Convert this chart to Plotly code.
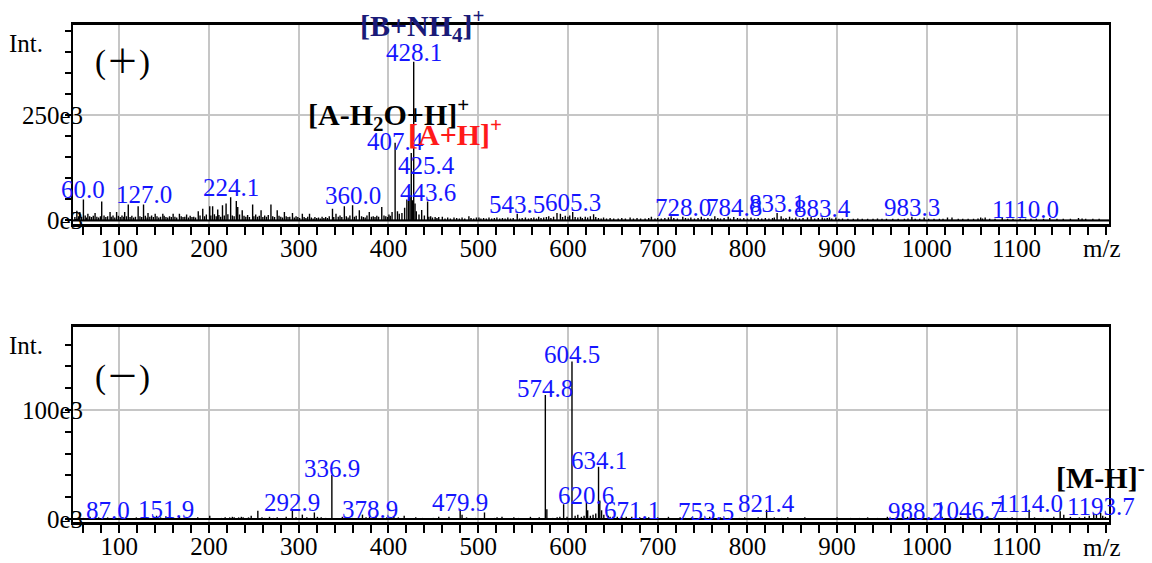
import plotly.graph_objects as go

SERIF = "Liberation Serif, Times New Roman, serif"
SERIF_CJK = "Liberation Serif, Noto Sans CJK SC, serif"
BLUE = "#1515ff"
NAVY = "#1a1a78"
RED = "#ff1a1a"

# ---------------- positive ion mode (intensity in units of 1e3) ----------------
pos_peak_mz = [52.7, 56.0, 60.0, 65.0, 73.0, 80.4, 89.7, 97.0, 106.0, 110.0, 121.0, 127.0,
               132.0, 140.0, 148.5, 160.0, 167.0, 175.0, 188.0, 193.0, 200.8, 204.0, 209.7,
               215.0, 219.0, 224.1, 230.4, 232.0, 237.0, 248.6, 258.0, 269.0, 276.0, 284.0,
               293.0, 304.0, 312.0, 337.6, 341.5, 350.8, 360.0, 367.5, 378.6, 392.5,
               400.5, 404.0, 407.4, 410.0, 415.0, 418.0, 420.5, 422.5, 424.0, 425.4, 426.8,
               428.1, 429.6, 431.0, 434.0, 437.0, 440.0, 443.6, 447.0, 452.0,
               460.0, 473.0, 489.6, 500.8, 520.8, 543.5, 552.6, 567.4, 578.6, 587.8, 591.6,
               605.3, 619.3, 628.6, 639.7, 669.3, 693.0, 715.0, 728.0, 737.0, 748.6, 763.7,
               778.6, 784.8, 804.0, 833.1, 837.6, 847.0, 854.0, 867.0, 871.0, 883.4, 891.5,
               898.6, 923.0, 945.0, 983.3, 997.0, 1023.0, 1028.0, 1060.0, 1065.0, 1084.0,
               1110.0, 1137.0, 1169.0, 1173.0]
pos_peak_int = [23, 20, 50, 16, 18, 45, 20, 20, 20, 38, 34, 38,
                18, 16, 16, 16, 16, 14, 22, 28, 34, 34, 26,
                36, 40, 55, 46, 32, 24, 38, 24, 38, 24, 20,
                18, 16, 16, 28, 16, 34, 36, 24, 20, 32,
                14, 20, 184, 22, 18, 30, 50, 60, 55, 160, 48,
                376, 40, 22, 14, 25, 12, 45, 10, 8,
                9, 7, 10, 7, 7, 16, 7, 9, 10, 18, 16,
                20, 9, 15, 7, 7, 9, 10, 9, 7, 9, 10,
                9, 8, 7, 18, 10, 9, 7, 7, 9, 7, 7,
                7, 5, 5, 9, 7, 7, 7, 7, 7, 7,
                4, 6, 6, 5]
pos_noise_mz = [50.5, 54.5, 58, 62, 63.5, 67, 69, 71, 75, 77, 79, 83, 85, 87, 91, 93, 95, 99,
                101, 103, 105, 108, 112, 114, 116, 118, 123, 125, 129, 131, 134, 136, 138,
                142, 144, 146, 150, 152, 154, 156, 158, 162, 164, 169, 171, 173, 177, 179,
                181, 183, 185, 190, 195, 197, 202, 206, 208, 211, 213, 217, 221, 226, 228,
                234, 239, 241, 243, 245, 250, 252, 254, 256, 260, 262, 264, 266, 271, 273,
                278, 280, 282, 286, 288, 290, 295, 297, 299, 301, 306, 308, 310, 314, 316,
                318, 320, 322, 324, 326, 328, 330, 332, 334, 339, 344, 346, 348, 353, 355,
                357, 362, 364, 370, 372, 374, 376, 381, 383, 385, 387, 389, 395, 397, 399,
                402, 412, 445, 449, 454, 456, 463, 466, 469, 476, 479, 482, 485, 492, 495,
                498, 503, 506, 509, 512, 515, 518, 524, 527, 530, 533, 536, 539, 546, 549,
                556, 559, 562, 565, 570, 573, 576, 581, 584, 594, 597, 600, 602, 608, 611,
                614, 616, 622, 625, 631, 634, 637, 643, 647, 651, 656, 660, 664, 673, 677,
                681, 686, 690, 697, 700, 704, 708, 712, 718, 722, 731, 734, 741, 745, 752,
                756, 760, 767, 770, 774, 781, 789, 792, 796, 800, 808, 812, 816, 820, 824,
                828, 830, 840, 843, 850, 858, 862, 875, 879, 886, 889, 894, 902, 906, 912,
                918, 928, 934, 940, 950, 955, 962, 968, 975, 979, 987, 992, 1002, 1008,
                1014, 1018, 1035, 1040, 1046, 1052, 1057, 1062, 1070, 1076, 1090, 1096,
                1104, 1116, 1122, 1130, 1145, 1152, 1160, 1177, 1185, 1192]
pos_noise_int = [8, 10, 9, 12, 7, 10, 8, 11, 9, 7, 10, 12, 8, 10, 9, 12, 7, 11,
                 8, 12, 9, 10, 8, 11, 7, 9, 10, 8, 11, 7, 9, 12, 8,
                 10, 7, 9, 11, 8, 7, 10, 8, 9, 7, 10, 8, 9, 7, 11,
                 8, 9, 7, 12, 10, 14, 12, 15, 10, 13, 9, 12, 15, 12, 10,
                 14, 11, 9, 13, 8, 10, 14, 9, 11, 8, 12, 9, 13, 10, 8,
                 11, 9, 7, 10, 8, 9, 7, 10, 8, 6, 8, 6, 9, 7, 5,
                 8, 6, 7, 5, 9, 6, 8, 6, 10, 8, 9, 12, 8, 10, 7,
                 12, 9, 11, 10, 8, 7, 12, 9, 10, 8, 11, 9, 12, 10, 8,
                 11, 16, 9, 7, 6, 8, 5, 7, 5, 6, 5, 7, 5, 6, 5,
                 7, 5, 6, 5, 7, 5, 6, 5, 6, 5, 7, 5, 6, 5, 6,
                 5, 6, 7, 5, 6, 7, 8, 6, 9, 8, 11, 9, 12, 8, 7,
                 9, 6, 7, 10, 8, 6, 5, 5, 6, 5, 5, 6, 5, 5, 6,
                 5, 5, 6, 5, 6, 5, 6, 7, 6, 5, 6, 5, 5, 6, 5,
                 6, 5, 6, 5, 6, 5, 6, 5, 6, 5, 5, 6, 5, 6, 5,
                 6, 7, 5, 6, 5, 5, 6, 5, 6, 5, 6, 5, 4, 5, 4,
                 4, 4, 4, 4, 4, 4, 4, 4, 4, 5, 4, 4, 4, 4,
                 4, 4, 4, 4, 4, 4, 5, 5, 4, 4, 4, 4,
                 4, 4, 4, 4, 4, 4, 4, 4, 4, 4]
pos_labels = [60.0, 127.0, 224.1, 360.0, 407.4, 425.4, 428.1, 443.6, 543.5, 605.3,
              728.0, 784.8, 833.1, 883.4, 983.3, 1110.0]

# ---------------- negative ion mode (intensity in units of 1e3) ----------------
neg_peak_mz = [67.4, 87.0, 119.0, 141.5, 151.9, 167.0, 187.4, 200.8, 223.0, 228.0, 233.0,
               238.0, 247.0, 254.4, 267.4, 292.9, 304.0, 317.4, 320.8, 336.9, 348.6, 371.0,
               378.9, 386.0, 406.0, 417.5, 430.4, 456.0, 467.4, 479.9, 482.0, 507.0, 526.5,
               539.7, 558.2, 574.8, 576.5, 595.2, 604.5, 608.0, 611.0, 620.6, 622.0, 625.0,
               628.0, 634.1, 635.5, 637.5, 640.0, 645.0, 650.0, 655.0, 660.0, 665.0, 671.1,
               680.0, 690.0, 700.0, 712.0, 725.0, 737.8, 745.0, 753.5, 758.0, 770.0, 785.0,
               797.0, 805.0, 812.0, 821.4, 830.0, 845.0, 855.0, 864.0, 880.0, 900.0, 915.0,
               934.0, 945.0, 956.0, 966.0, 978.5, 988.2, 1000.0, 1010.0, 1017.0, 1025.0,
               1037.8, 1046.7, 1055.0, 1065.0, 1075.0, 1085.0, 1095.0, 1105.0, 1114.0,
               1120.0, 1130.0, 1141.5, 1148.6, 1152.6, 1160.0, 1170.0, 1176.0, 1181.0,
               1186.0, 1189.0, 1193.7, 1196.0, 1199.0]
neg_peak_int = [2, 1.5, 1.5, 3, 2.5, 2, 1.5, 3, 1.5, 1.5, 1.5,
                1.5, 3, 7.5, 2, 9, 4, 6, 2, 40.5, 2, 4,
                2.5, 3, 2, 3, 1.5, 2, 2, 9, 4, 6, 2,
                1.5, 2, 113.8, 9, 13.6, 144.5, 3, 4, 15.5, 8, 3,
                4, 48, 17, 8, 4, 3, 2, 2, 2, 2, 2,
                1.5, 1.5, 1.5, 2, 1.5, 1.5, 1, 1, 2, 1.5, 1,
                1.5, 1, 1.5, 8.5, 1.5, 1.5, 1, 1.5, 1, 1.5, 1,
                1.5, 1, 2, 1.5, 2, 1, 1, 1.5, 2, 1,
                2, 2, 1, 1.5, 1.5, 1, 1.5, 1, 8.5,
                1.5, 1, 2, 7, 4, 2, 1.5, 2, 3,
                5, 4, 5.5, 3, 2]
neg_noise_mz = [52, 56, 60, 72, 77, 82, 92, 97, 104, 110, 125, 130, 135, 146, 157, 162, 173,
                180, 193, 208, 214, 218, 226, 231, 236, 241, 244, 250, 259, 262, 272, 276,
                281, 286, 297, 300, 309, 313, 325, 330, 344, 355, 360, 366, 375, 392, 398,
                402, 411, 414, 422, 438, 444, 450, 462, 473, 487, 491, 497, 502, 512, 518,
                521, 532, 545, 550, 563, 568, 583, 588, 591, 599, 615, 618, 631, 647, 668,
                675, 685, 695, 705, 718, 731, 764, 779, 791, 817, 826, 838, 850, 870, 890,
                908, 925, 940, 950, 961, 972, 983, 995, 1005, 1030, 1050, 1060, 1070, 1080,
                1090, 1100, 1110, 1125, 1135, 1145, 1156, 1165]
neg_noise_int = [1, 1.5, 1, 1, 1.5, 1, 1, 1, 1.5, 1, 1, 1.5, 1, 1.5, 1, 1, 1,
                 1, 1, 1, 1, 1.5, 2, 1, 2, 1, 1.5, 1, 1.5, 1, 1, 1.5,
                 1, 2, 1.5, 1, 1.5, 1, 1.5, 1, 1, 1.5, 1, 1, 1.5, 1, 1.5,
                 1, 1.5, 1, 1, 1, 1, 1, 1, 1, 1.5, 1, 1, 1, 1, 1,
                 1.5, 1, 1, 1, 1, 1.5, 1, 1.5, 2, 2, 2, 3, 5, 2, 1,
                 1, 1, 1, 1, 1, 1, 1, 1, 1, 1, 1, 1, 1, 1, 1,
                 1, 1, 1, 1, 1, 1, 1, 1, 1, 1, 1, 1, 1, 1,
                 1, 1, 1, 1, 1, 1, 1, 1]
neg_labels = [87.0, 151.9, 292.9, 336.9, 378.9, 479.9, 574.8, 604.5, 620.6, 634.1,
              671.1, 753.5, 821.4, 988.2, 1046.7, 1114.0, 1193.7]

x_ticks = [100, 200, 300, 400, 500, 600, 700, 800, 900, 1000, 1100]
pos_y_ticks = [0, 250]
neg_y_ticks = [0, 100]

# vertical gap (px) between a peak top and its label box, per panel
label_gap = {"pos": -6, "neg": -9}
# label offsets (px) where a label had to be moved off its peak
label_nudge = {("pos", 425.4): (15, -22), ("pos", 407.4): (0, -8)}


def sticks(mz, inten):
    xs, ys = [], []
    for m, v in zip(mz, inten):
        xs += [m, m, None]
        ys += [0, v, None]
    return xs, ys


fig = go.Figure()
for mzs, ints, ya in [(pos_noise_mz, pos_noise_int, "y"), (pos_peak_mz, pos_peak_int, "y"),
                      (neg_noise_mz, neg_noise_int, "y2"), (neg_peak_mz, neg_peak_int, "y2")]:
    xs, ys = sticks(mzs, ints)
    fig.add_trace(go.Scatter(x=xs, y=ys, mode="lines", line=dict(color="black", width=1.4),
                             xaxis="x" if ya == "y" else "x2", yaxis=ya,
                             hoverinfo="skip", showlegend=False))

annotations = []


def add_peak_labels(tag, labels, mzs, ints, xref, yref):
    for m in labels:
        h = ints[mzs.index(m)]
        dx, dy = label_nudge.get((tag, m), (0, 0))
        annotations.append(dict(x=m, y=h, xref=xref, yref=yref, text=f"{m:.1f}",
                                showarrow=False, xanchor="center", yanchor="bottom",
                                xshift=dx, yshift=label_gap[tag] + dy,
                                font=dict(family=SERIF, size=25, color=BLUE)))


add_peak_labels("pos", pos_labels, pos_peak_mz, pos_peak_int, "x", "y")
add_peak_labels("neg", neg_labels, neg_peak_mz, neg_peak_int, "x2", "y2")

bold = dict(family=SERIF, size=30)
plain = dict(family=SERIF, size=25, color="black")
annotations += [
    dict(x=438, y=461, xref="x", yref="y", text="<b>[B+NH<sub>4</sub>]<sup>+</sup></b>",
         font=dict(bold, color=NAVY)),
    dict(x=400.4, y=252, xref="x", yref="y", text="<b>[A-H<sub>2</sub>O+H]<sup>+</sup></b>",
         font=dict(bold, color="black")),
    dict(x=474, y=210, xref="x", yref="y", text="<b>[A+H]<sup>+</sup></b>",
         font=dict(bold, color=RED)),
    dict(x=1193.5, y=40.4, xref="x2", yref="y2", text="<b>[M-H]<sup>-</sup></b>",
         font=dict(bold, color="black")),
    dict(x=103.6, y=374, xref="x", yref="y", text="(＋)",
         font=dict(family=SERIF_CJK, size=33, color="black")),
    dict(x=103.6, y=129.4, xref="x2", yref="y2", text="(－)",
         font=dict(family=SERIF_CJK, size=33, color="black")),
    # axis captions sit outside the plotting area, so they use paper coordinates
    dict(x=-0.0449, y=0.9628, xref="paper", yref="paper", text="Int.", font=plain),
    dict(x=-0.0449, y=0.3561, xref="paper", yref="paper", text="Int.", font=plain),
    dict(x=0.9932, y=0.5493, xref="paper", yref="paper", text="m/z", font=plain),
    dict(x=0.9932, y=-0.0523, xref="paper", yref="paper", text="m/z", font=plain),
]
for a in annotations[-10:]:
    a.setdefault("showarrow", False)
    a.setdefault("xanchor", "center")
    a.setdefault("yanchor", "middle")

tick_font = dict(family=SERIF, size=25, color="black")
xcommon = dict(range=[48.4, 1203], tickmode="array", tickvals=x_ticks, ticks="outside",
               ticklen=8, tickwidth=1.5, tickcolor="black", tickfont=tick_font,
               showgrid=True, gridcolor="#c6c6c6", gridwidth=1.5, zeroline=False,
               showline=True, linecolor="black", linewidth=2.5, mirror=True,
               automargin=False, ticklabelstandoff=-8,
               minor=dict(tickmode="linear", tick0=0, dtick=20, ticks="outside", ticklen=8,
                          tickwidth=1.5, tickcolor="black", showgrid=False))
ycommon = dict(tickmode="array", ticks="outside", ticklen=6, tickwidth=1.5, tickcolor="black",
               tickfont=tick_font, showgrid=True, gridcolor="#c6c6c6", gridwidth=1.5,
               zeroline=False, showline=True, linecolor="black", linewidth=2, mirror=True,
               automargin=False, ticklabelstandoff=-23)

fig.update_layout(
    template="none",
    width=1152, height=563, autosize=False,
    margin=dict(l=73, r=43, t=25, b=41),
    paper_bgcolor="white", plot_bgcolor="white",
    showlegend=False,
    xaxis=dict(xcommon, domain=[0, 1], anchor="y"),
    yaxis=dict(ycommon, domain=[0.5986, 1.0], anchor="x", range=[-9.5, 463.3],
               tickvals=pos_y_ticks, ticktext=[f"{v}e3" for v in pos_y_ticks],
               minor=dict(tickmode="linear", tick0=0, dtick=50, ticks="outside", ticklen=6,
                          tickwidth=1.5, tickcolor="black", showgrid=False)),
    xaxis2=dict(xcommon, domain=[0, 1], anchor="y2"),
    yaxis2=dict(ycommon, domain=[0, 0.393], anchor="x2", range=[-2.75, 176.4],
                tickvals=neg_y_ticks, ticktext=[f"{v}e3" for v in neg_y_ticks],
                minor=dict(tickmode="linear", tick0=0, dtick=20, ticks="outside", ticklen=6,
                           tickwidth=1.5, tickcolor="black", showgrid=False)),
    annotations=annotations,
    shapes=[
        dict(type="line", xref="x domain", yref="y", x0=0, x1=1, y0=0, y1=0,
             line=dict(color="black", width=2)),
        dict(type="line", xref="x2 domain", yref="y2", x0=0, x1=1, y0=0, y1=0,
             line=dict(color="black", width=2)),
    ],
)

fig.write_html("out.html")
